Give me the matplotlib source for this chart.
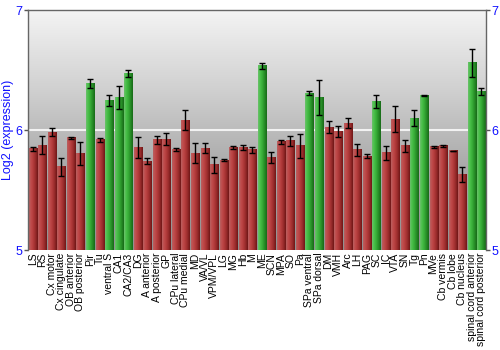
import numpy as np
import matplotlib
matplotlib.use("Agg")
import matplotlib.pyplot as plt
from matplotlib.colors import LinearSegmentedColormap

regions = ["LS", "RS", "Cx motor", "Cx cingulate", "OB anterior", "OB posterior",
           "Pir", "Tu", "ventral S", "CA1", "CA2/CA3", "DG", "A anterior",
           "A posterior", "GP", "CPu lateral", "CPu medial", "MD", "VA/VL",
           "VPM/VPL", "LG", "MG", "Hb", "M", "ME", "SCN", "MPA", "SO", "Pa",
           "SPa ventral", "SPa dorsal", "DM", "VMH", "Arc", "LH", "PAG", "SC",
           "IC", "VTA", "SN", "Tg", "Pn", "MVe", "Cb vermis", "Cb lobe",
           "Cb nucleus", "spinal cord anterior", "spinal cord posterior"]

expression = [5.845, 5.873, 5.983, 5.693, 5.934, 5.804, 6.387, 5.917, 6.249,
              6.273, 6.470, 5.851, 5.738, 5.917, 5.925, 5.840, 6.083, 5.807,
              5.848, 5.710, 5.749, 5.856, 5.856, 5.834, 6.536, 5.773, 5.901,
              5.909, 5.867, 6.307, 6.271, 6.022, 5.989, 6.058, 5.837, 5.782,
              6.238, 5.809, 6.091, 5.867, 6.099, 6.287, 5.859, 5.867, 5.826,
              5.630, 6.561, 6.323]

sem = [0.017, 0.077, 0.033, 0.076, 0.010, 0.098, 0.036, 0.018, 0.046, 0.094,
       0.030, 0.088, 0.025, 0.030, 0.052, 0.011, 0.083, 0.083, 0.041, 0.065,
       0.006, 0.011, 0.022, 0.022, 0.026, 0.044, 0.014, 0.039, 0.097, 0.019,
       0.146, 0.050, 0.047, 0.039, 0.050, 0.017, 0.055, 0.058, 0.110, 0.051,
       0.064, 0.006, 0.006, 0.012, 0.003, 0.062, 0.116, 0.030]

enriched = ["Pir", "ventral S", "CA1", "CA2/CA3", "ME", "SPa ventral",
            "SPa dorsal", "SC", "Tg", "Pn", "spinal cord anterior",
            "spinal cord posterior"]

YMIN, YMAX = 5, 7
BLUE = "#1010ff"

red_cmap = LinearSegmentedColormap.from_list(
    "red_bar", ["#b86060", "#c04a4a", "#b03a3a", "#962a2a", "#6e1616"])
green_cmap = LinearSegmentedColormap.from_list(
    "green_bar", ["#6cc06c", "#48c048", "#36aa36", "#268a26", "#176a17"])
bg_cmap = LinearSegmentedColormap.from_list(
    "bg", ["#f4f4f4", "#d0d0d0", "#a8a8a8", "#909090"])

fig = plt.figure(figsize=(5, 3.5), dpi=100)
ax = fig.add_axes([0.056, 0.2857, 0.916, 0.6857])

n = len(regions)
x = np.arange(n)
xlim = (-0.5, n - 0.5)

# vertical gray gradient behind the bars, light at the top
bg = np.linspace(0, 1, 256).reshape(-1, 1)
ax.imshow(bg, extent=[xlim[0], xlim[1], YMIN, YMAX], aspect="auto",
          cmap=bg_cmap, origin="upper", zorder=0)

ax.axhline(6, color="#f2f2f2", lw=1.5, zorder=1)

# shaded bars: horizontal gradient inside each bar
grad = np.linspace(0, 1, 64).reshape(1, -1)
width = 0.84
for xi, v, name in zip(x, expression, regions):
    cmap = green_cmap if name in enriched else red_cmap
    ax.imshow(grad, extent=[xi - width / 2, xi + width / 2, YMIN, v],
              aspect="auto", cmap=cmap, zorder=2)

ax.errorbar(x, expression, yerr=sem, fmt="none", ecolor="black",
            elinewidth=1, capsize=2, capthick=1, zorder=3)

ax.set_xlim(*xlim)
ax.set_ylim(YMIN, YMAX)

ax.set_xticks(x)
ax.set_xticklabels(regions, rotation=90, fontsize=7.5,
                   family="Liberation Sans")
ax.tick_params(axis="x", length=0, pad=2)

ax.set_yticks([5, 6, 7])
ax.tick_params(axis="y", which="both", left=True, right=True,
               labelleft=True, labelright=True, length=3, width=1,
               color="#555555", labelcolor=BLUE, labelsize=9, pad=1)
for lbl in ax.get_yticklabels():
    lbl.set_family("Liberation Sans")

ax.set_ylabel("Log2 (expression)", color=BLUE, fontsize=9,
              family="Liberation Sans", labelpad=1)

for side in ["top", "right", "left"]:
    ax.spines[side].set_color("#666666")
    ax.spines[side].set_linewidth(1)
ax.spines["bottom"].set_visible(False)

fig.savefig("out.png", dpi=100)
